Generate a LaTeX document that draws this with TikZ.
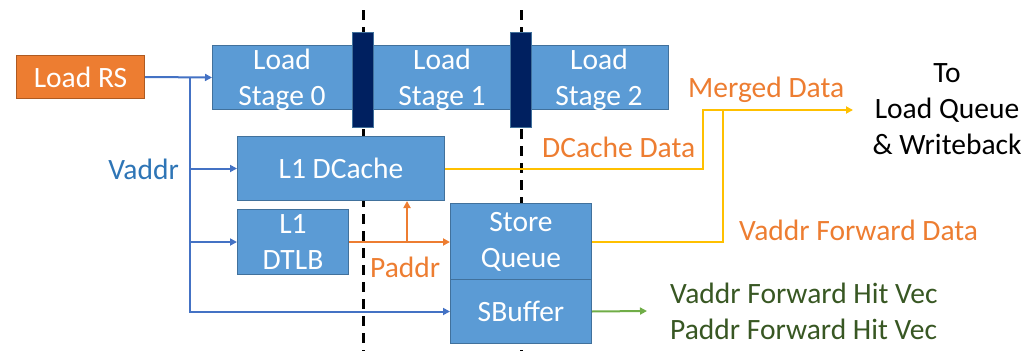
\documentclass[tikz,border=0pt]{standalone}
\usepackage{fontspec}
\setmainfont{Carlito}
\usetikzlibrary{arrows.meta}
\definecolor{boxblue}{HTML}{5B9BD5}
\definecolor{boxedge}{HTML}{41719C}
\definecolor{latchnavy}{HTML}{002060}
\definecolor{rsorange}{HTML}{ED7D31}
\definecolor{rsedge}{HTML}{AE5A21}
\definecolor{wireblue}{HTML}{4472C4}
\definecolor{txtblue}{HTML}{2E75B6}
\definecolor{wireyellow}{HTML}{FFC000}
\definecolor{wireorange}{HTML}{ED7D31}
\definecolor{wiregreen}{HTML}{70AD47}
\definecolor{txtgreen}{HTML}{385723}
\begin{document}
\begin{tikzpicture}[x=1pt,y=-1pt,
  font=\fontsize{29.5}{36}\selectfont,
  blk/.style={draw=boxedge, fill=boxblue, line width=1pt, text=white,
    inner sep=0pt, align=center, anchor=north west},
  latch/.style={draw=boxedge, fill=latchnavy, line width=1pt, anchor=north west,
    minimum width=21pt, minimum height=95pt, inner sep=0pt},
  stagelbl/.style={text=white, align=center, inner sep=0pt},
  tip/.style={-{Triangle[length=7pt,width=7pt]}},
  bluewire/.style={draw=wireblue, line width=2pt},
  orangewire/.style={draw=wireorange, line width=2pt},
  yellowwire/.style={draw=wireyellow, line width=2pt},
  greenwire/.style={draw=wiregreen, line width=2pt},
  stageline/.style={draw=black, line width=3pt, dash pattern=on 10pt off 7pt}]

\useasboundingbox (0,0) rectangle (1023,351);

% pipeline stage boundaries
\draw[stageline] (363,10) -- (363,351);
\draw[stageline] (521,10) -- (521,351);

% load pipeline stages
\node[blk, minimum width=456pt, minimum height=64pt] (stages) at (212,45) {};
\node[stagelbl] (s0) at (282,80) {Load\\Stage 0};
\node[stagelbl] (s1) at (442,80) {Load\\Stage 1};
\node[stagelbl] (s2) at (599,80) {Load\\Stage 2};
\node[latch] (latch1) at (352,32) {};
\node[latch] (latch2) at (510,32) {};

% reservation station
\node[draw=rsedge, fill=rsorange, line width=1pt, text=white, inner sep=0pt,
  minimum width=128pt, minimum height=43pt, anchor=north west] (rs) at (16,55) {Load RS};

% memory units
\node[blk, minimum width=207pt, minimum height=64pt] (dc) at (237,136) {L1 DCache};
\node[blk, minimum width=111pt, minimum height=65pt] (tlb) at (237,209) {L1\\DTLB};
\node[blk, minimum width=141pt, minimum height=76pt] (sq) at (450,203) {Store\\Queue};
\node[blk, minimum width=141pt, minimum height=64pt] (sb) at (450,279) {SBuffer};

% virtual address distribution
\coordinate (vsplit) at (190,77);
\draw[bluewire, tip] (rs.east) -- (stages.west);
\draw[bluewire, tip] (vsplit) |- (dc.west);
\draw[bluewire, tip] (vsplit) |- (tlb.west);
\draw[bluewire, tip] (vsplit) |- (sb.west);
\node[text=txtblue, anchor=base east, inner sep=0pt] (vaddr) at (179,179) {Vaddr};

% physical address
\coordinate (psplit) at (407,241.5);
\draw[orangewire, tip] (tlb.east) -- (tlb.east -| sq.west);
\draw[orangewire, tip] (psplit) -- (psplit |- dc.south);
\node[text=wireorange, anchor=base west, inner sep=0pt] (paddr) at (370,277) {Paddr};

% data merge
\coordinate (dcturn) at (703,110);
\coordinate (sqturn) at (723,110);
\coordinate (mout) at (853,110);
\draw[yellowwire] (dc.east) -| (dcturn) -- (sqturn);
\draw[yellowwire] (sq.east) -| (sqturn);
\draw[yellowwire, tip] (sqturn) -- (mout);
\node[text=wireorange, anchor=base west, inner sep=0pt] (dcdata) at (542,157) {DCache Data};
\node[text=wireorange, anchor=base west, inner sep=0pt] (merged) at (688,97) {Merged Data};
\node[text=wireorange, anchor=base west, inner sep=0pt] (vfd) at (739,240) {Vaddr Forward Data};
\node[align=center, inner sep=0pt] (dest) at (947,109) {To\\Load Queue\\\& Writeback};

% forward hit vectors
\coordinate (gout) at (647,311);
\draw[greenwire, tip] (sb.east) -- (gout);
\node[text=txtgreen, align=left, anchor=west, inner sep=0pt] (hitvec) at (670,311)
  {Vaddr Forward Hit Vec\\Paddr Forward Hit Vec};
\end{tikzpicture}
\end{document}
